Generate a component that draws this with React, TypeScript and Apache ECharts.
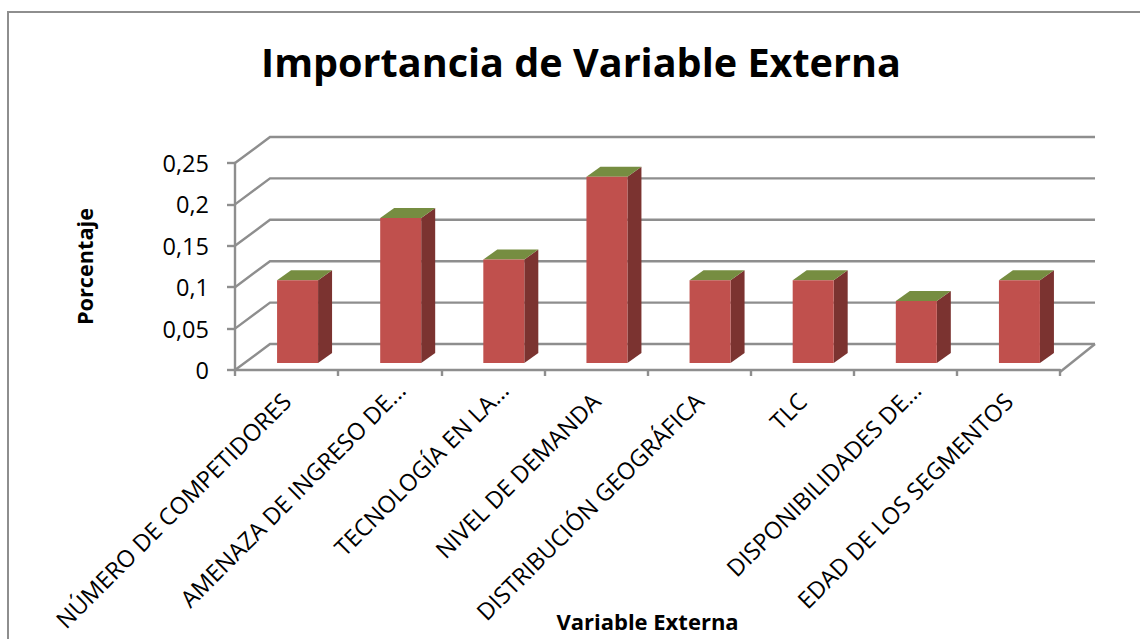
import React, { useEffect, useRef } from "react";
import * as echarts from "echarts";

const categories = [
  "NÚMERO DE COMPETIDORES",
  "AMENAZA DE INGRESO DE...",
  "TECNOLOGÍA EN LA...",
  "NIVEL DE DEMANDA",
  "DISTRIBUCIÓN GEOGRÁFICA",
  "TLC",
  "DISPONIBILIDADES DE...",
  "EDAD DE LOS SEGMENTOS",
];
const values = [0.1, 0.175, 0.125, 0.225, 0.1, 0.1, 0.075, 0.1];
const gridValues = [0, 0.05, 0.1, 0.15, 0.2, 0.25];

const FONT = "'Open Sans', sans-serif";
const GRID_COLOR = "#8e8e8e";
// Oblique projection of the floor depth
const WALL_DX = 35;
const WALL_DY = -26;
// Placement of a bar inside the depth of the floor
const BAR_DX = 11;
const BAR_DY = -7;
const BAR_WIDTH = 41;
const SIDE_DX = 14;
const SIDE_DY = -10;
// Shortened labels sit a little further along their slant
const SHORTENED_LABEL_SHIFT = 16;

const lineStyle = { stroke: GRID_COLOR, lineWidth: 2.4, fill: "none" };

export default function App() {
  const ref = useRef<HTMLDivElement>(null);

  useEffect(() => {
    const chart = echarts.init(ref.current!, undefined, { renderer: "svg" });
    chart.setOption({
      animation: false,
      backgroundColor: "#ffffff",
      title: {
        text: "Importancia de Variable Externa",
        left: 576,
        top: 37,
        textAlign: "center",
        textStyle: { fontFamily: FONT, fontSize: 39.6, fontWeight: "bold", color: "#000" },
      },
      grid: {
        left: 235,
        top: 163,
        width: 825,
        height: 207,
        containLabel: false,
        outerBoundsMode: "none",
      },
      xAxis: {
        type: "category",
        data: categories.map((c) =>
          c.endsWith("...")
            ? { value: c, textStyle: { padding: [0, -SHORTENED_LABEL_SHIFT, 0, 0] } }
            : c
        ),
        offset: 2,
        name: "Variable Externa",
        nameLocation: "middle",
        nameGap: 238,
        nameMoveOverlap: false,
        nameTextStyle: { fontFamily: FONT, fontSize: 22, fontWeight: "bold", color: "#000" },
        axisLine: { show: true, lineStyle: { color: GRID_COLOR, width: 2.4 } },
        axisTick: { show: true, length: 6, alignWithLabel: false, lineStyle: { color: GRID_COLOR, width: 2.4 } },
        axisLabel: {
          rotate: 45,
          interval: 0,
          margin: 25,
          fontFamily: FONT,
          fontSize: 23.5,
          color: "#000",
        },
        splitLine: { show: false },
      },
      yAxis: {
        type: "value",
        min: 0,
        max: 0.25,
        interval: 0.05,
        name: "Porcentaje",
        nameLocation: "middle",
        nameGap: 140,
        nameMoveOverlap: false,
        nameTextStyle: { fontFamily: FONT, fontSize: 21.7, fontWeight: "bold", color: "#000" },
        axisLine: { show: true, lineStyle: { color: GRID_COLOR, width: 2.4 } },
        axisTick: { show: true, length: 8, lineStyle: { color: GRID_COLOR, width: 2.4 } },
        axisLabel: {
          margin: 26,
          fontFamily: FONT,
          fontSize: 23.5,
          color: "#000",
          padding: [7, 0, 0, 0],
          formatter: (v: number) => String(v).replace(".", ","),
        },
        splitLine: { show: false },
      },
      graphic: [
        {
          type: "rect",
          silent: true,
          shape: { x: 8, y: 12, width: 1200, height: 700 },
          style: { fill: "none", stroke: GRID_COLOR, lineWidth: 2 },
        },
      ],
      series: [
        {
          // Side wall and back wall rules
          type: "custom",
          coordinateSystem: "cartesian2d",
          clip: false,
          silent: true,
          z: 1,
          data: gridValues.map((v) => [0, v]),
          renderItem: (_p: any, api: any) => {
            const y = api.coord([0, api.value(1)])[1];
            const rect = _p.coordSys;
            const x0 = rect.x;
            const x1 = rect.x + rect.width;
            return {
              type: "polyline",
              silent: true,
              shape: {
                points: [
                  [x0, y],
                  [x0 + WALL_DX, y + WALL_DY],
                  [x1 + WALL_DX, y + WALL_DY],
                ],
              },
              style: lineStyle,
            };
          },
        },
        {
          // Right edge of the floor
          type: "custom",
          coordinateSystem: "cartesian2d",
          clip: false,
          silent: true,
          z: 1,
          data: [[0, 0]],
          renderItem: (p: any, api: any) => {
            const y = api.coord([0, 0])[1];
            const x1 = p.coordSys.x + p.coordSys.width;
            return {
              type: "line",
              silent: true,
              shape: { x1, y1: y + 2, x2: x1 + WALL_DX, y2: y + WALL_DY },
              style: lineStyle,
            };
          },
        },
        {
          // Bars with front, side and top faces
          type: "custom",
          coordinateSystem: "cartesian2d",
          clip: false,
          silent: true,
          z: 2,
          data: values.map((v, i) => [i, v]),
          renderItem: (_p: any, api: any) => {
            const cat = api.value(0);
            const val = api.value(1);
            const [cx, top] = api.coord([cat, val]);
            const bottom = api.coord([cat, 0])[1];
            const l = cx + BAR_DX - BAR_WIDTH / 2;
            const r = l + BAR_WIDTH;
            const t = top + BAR_DY;
            const b = bottom + BAR_DY;
            return {
              type: "group",
              children: [
                {
                  type: "polygon",
                  shape: {
                    points: [
                      [r, t],
                      [r + SIDE_DX, t + SIDE_DY],
                      [r + SIDE_DX, b + SIDE_DY],
                      [r, b],
                    ],
                  },
                  style: { fill: "#7b3330" },
                },
                {
                  type: "polygon",
                  shape: {
                    points: [
                      [l, t],
                      [l + SIDE_DX, t + SIDE_DY],
                      [r + SIDE_DX, t + SIDE_DY],
                      [r, t],
                    ],
                  },
                  style: { fill: "#768d41" },
                },
                {
                  type: "rect",
                  shape: { x: l, y: t, width: BAR_WIDTH, height: b - t },
                  style: { fill: "#c0504d" },
                },
              ],
            };
          },
        },
      ],
    });
    return () => chart.dispose();
  }, []);

  return (
    <div
      ref={ref}
      style={{ position: "fixed", left: 0, top: 0, width: 1140, height: 639 }}
    />
  );
}
